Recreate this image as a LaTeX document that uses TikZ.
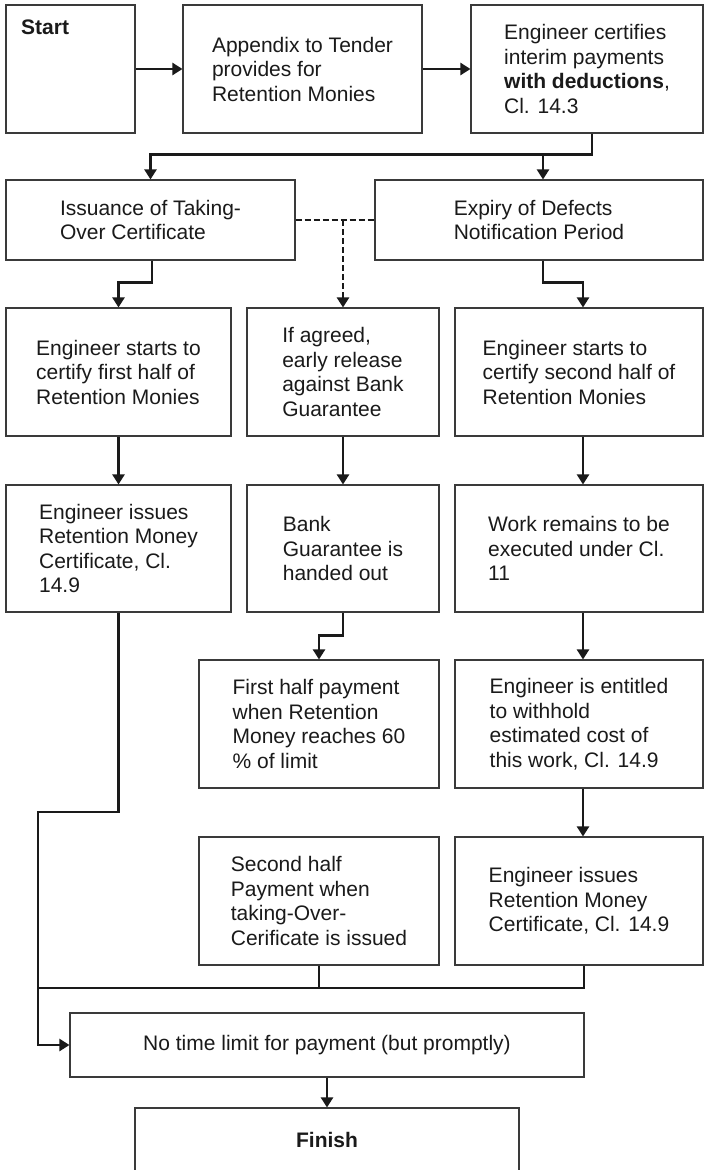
\documentclass[tikz,border=0pt]{standalone}
\usepackage{fontspec}
\setmainfont{Liberation Sans}
\usetikzlibrary{arrows.meta}
\definecolor{boxline}{HTML}{3A3A3A}
\definecolor{txt}{HTML}{1A1A1A}
\tikzset{
  every node/.style={font=\fontsize{21}{24.5}\selectfont, text=txt},
  box/.style={draw=boxline, line width=1.1pt, rectangle, align=left, inner sep=0pt},
  conn/.style={draw=txt, line width=2.3pt},
  arr/.style={conn, -{Triangle[length=10pt,width=12pt]}},
  dconn/.style={conn, line width=2.6pt, dash pattern=on 6pt off 3pt},
  darr/.style={dconn, -{Triangle[length=10pt,width=12pt]}},
}
\begin{document}
\begin{tikzpicture}[x=1pt,y=-1pt]
\clip (0,0) rectangle (704,1170);
\fill[white] (0,0) rectangle (704,1170);
% row 1
\node[box, minimum width=129pt, minimum height=128pt] (start) at (70.5,69) {};
\node[anchor=west, inner sep=0pt, font=\fontsize{21}{24.5}\selectfont\bfseries] (starttxt) at (21,27) {Start};
\node[box, minimum width=239pt, minimum height=128pt] (app) at (302.5,69) {Appendix to Tender\\provides for\\Retention Monies};
\node[box, minimum width=232pt, minimum height=128pt] (eng) at (587,69) {Engineer certifies\\interim payments\\\textbf{with deductions},\\Cl. 14.3};
% row 2
\node[box, minimum width=289pt, minimum height=80pt] (iss) at (150.5,220) {Issuance of Taking-\\Over Certificate};
\node[box, minimum width=328pt, minimum height=80pt] (exp) at (539,220) {Expiry of Defects\\Notification Period};
% row 3
\node[box, minimum width=225pt, minimum height=128pt] (a) at (118.5,372) {Engineer starts to\\certify first half of\\Retention Monies};
\node[box, minimum width=192pt, minimum height=128pt] (b) at (343,372) {If agreed,\\early release\\against Bank\\Guarantee};
\node[box, minimum width=248pt, minimum height=128pt] (c) at (579,372) {Engineer starts to\\certify second half of\\Retention Monies};
% row 4
\node[box, minimum width=225pt, minimum height=127pt] (d) at (118.5,548.5) {Engineer issues\\Retention Money\\Certificate, Cl.\\14.9};
\node[box, minimum width=192pt, minimum height=127pt] (e) at (343,548.5) {Bank\\Guarantee is\\handed out};
\node[box, minimum width=248pt, minimum height=127pt] (f) at (579,548.5) {Work remains to be\\executed under Cl.\\11};
% row 5
\node[box, minimum width=240pt, minimum height=128pt] (g) at (319,724) {First half payment\\when Retention\\Money reaches 60\\\% of limit};
\node[box, minimum width=248pt, minimum height=128pt] (h) at (579,724) {Engineer is entitled\\to withhold\\estimated cost of\\this work, Cl. 14.9};
% row 6
\node[box, minimum width=240pt, minimum height=128pt] (i) at (319,901) {Second half\\Payment when\\taking-Over-\\Cerificate is issued};
\node[box, minimum width=248pt, minimum height=128pt] (j) at (579,901) {Engineer issues\\Retention Money\\Certificate, Cl. 14.9};
% bottom
\node[box, minimum width=514pt, minimum height=64pt] (nt) at (327,1045) {No time limit for payment (but promptly)};
\node[box, minimum width=384pt, minimum height=64pt, font=\fontsize{21}{24.5}\selectfont\bfseries] (fin) at (327,1140) {Finish};

% connectors
\draw[arr] (start) -- (app);
\draw[arr] (app) -- (eng);
\draw[arr] ([xshift=5pt]eng.south) |- ([yshift=25pt]iss.north) -- (iss.north);
\draw[arr] ([xshift=4pt,yshift=25pt]exp.north) -- ([xshift=4pt]exp.north);
\draw[dconn] (iss.east) -- (exp.west);
\draw[darr] (iss.east -| b.north) -- (b.north);
\draw[arr] ([xshift=1.5pt]iss.south) |- ([yshift=25pt]a.north) -- (a.north);
\draw[arr] ([xshift=4pt]exp.south) |- ([xshift=4pt,yshift=25pt]c.north) -- ([xshift=4pt]c.north);
\draw[arr] (a) -- (d);
\draw[arr] (b) -- (e);
\draw[arr] ([xshift=4pt]c.south) -- ([xshift=4pt]f.north);
\draw[arr] (e.south) |- ([yshift=24pt]g.north) -- (g.north);
\draw[arr] ([xshift=4pt]f.south) -- ([xshift=4pt]h.north);
\draw[arr] ([xshift=4pt]h.south) -- ([xshift=4pt]j.north);
\coordinate (lbend) at (38,812);
\coordinate (jn) at (38,988);
\draw[arr] (d.south) |- (lbend) |- (nt.west);
\draw[conn] ([xshift=5pt]j.south) |- (jn);
\draw[conn] (i.south) -- (i.south |- jn);
\draw[arr] (nt) -- (fin);
\end{tikzpicture}
\end{document}
